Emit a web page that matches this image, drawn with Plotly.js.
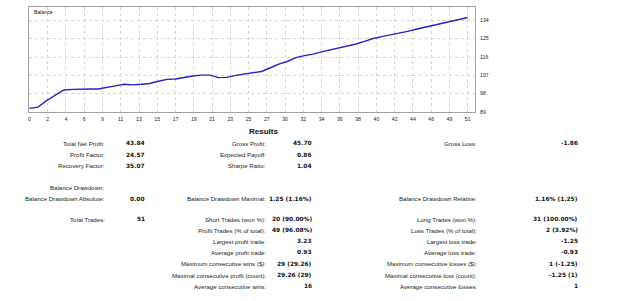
<!DOCTYPE html>
<html>
<head>
<meta charset="utf-8">
<script src="https://cdn.plot.ly/plotly-3.0.1.min.js"></script>
<style>html,body{margin:0;padding:0;background:#fff;}#chart{width:625px;height:301px;}</style>
</head>
<body>
<div id="chart"></div>
<script>
// ---- data ----
const trades = [0,1,2,3,4,5,6,7,8,9,10,11,12,13,14,15,16,17,18,19,20,21,22,23,24,25,26,27,28,29,30,31,32,33,34,35,36,37,38,39,40,41,42,43,44,45,46,47,48,49,50,51];
const balance = [90.8,91.4,94.6,97.3,99.8,100.1,100.3,100.3,100.3,100.9,101.8,102.6,102.3,102.6,103.0,104.1,105.0,105.2,106.0,106.7,107.1,107.1,105.9,106.0,107.0,107.6,108.1,108.9,110.6,112.5,113.8,115.7,116.7,117.4,118.5,119.4,120.5,121.4,122.4,123.7,125.1,126.0,126.8,127.6,128.6,129.6,130.6,131.5,132.5,133.4,134.4,135.4];
const xTickLabels = ["0","2","4","6","9","11","13","15","17","19","21","23","25","27","30","32","34","36","38","40","42","44","46","49","51"];
const yTickValues = [89,98,107,116,125,134];

const title = "Results";
const col1Labels = ["Total Net Profit:","Profit Factor:","Recovery Factor:","","Balance Drawdown:","Balance Drawdown Absolute:","","Total Trades:","","","","","",""];
const col1Values = ["43.84","24.57","35.07","","","0.00","","51","","","","","",""];
const col2Labels = ["Gross Profit:","Expected Payoff:","Sharpe Ratio:","","","Balance Drawdown Maximal:","","Short Trades (won %):","Profit Trades (% of total):","Largest profit trade:","Average profit trade:","Maximum consecutive wins ($):","Maximal consecutive profit (count):","Average consecutive wins:"];
const col2Values = ["45.70","0.86","1.04","","","1.25 (1.16%)","","20 (90.00%)","49 (96.08%)","3.23","0.93","29 (29.26)","29.26 (29)","16"];
const col3Labels = ["Gross Loss:","","","","","Balance Drawdown Relative:","","Long Trades (won %):","Loss Trades (% of total):","Largest loss trade:","Average loss trade:","Maximum consecutive losses ($):","Maximal consecutive loss (count):","Average consecutive losses:"];
const col3Values = ["-1.86","","","","","1.16% (1.25)","","31 (100.00%)","2 (3.92%)","-1.25","-0.93","1 (-1.25)","-1.25 (1)","1"];

// ---- layout geometry ----
const W = 625, H = 301;
const M = {l:29, r:150, t:7, b:189};
const PW = W - M.l - M.r, PH = H - M.t - M.b;
const px = x => (x - M.l) / PW;
const py = y => (H - M.b - y) / PH;
const rowY = [143.3,154.5,165.7,176.5,187.3,198.7,209,219.3,230.2,241.3,252.3,263.7,275,286];
const cols = [
  {labels:col1Labels, values:col1Values, lx:107, vx:147},
  {labels:col2Labels, values:col2Values, lx:268, vx:313.5},
  {labels:col3Labels, values:col3Values, lx:479, vx:579.5}
];

const annotations = [];
annotations.push({text:"Balance", xref:"paper", yref:"paper", x:px(32), y:py(12), xanchor:"left", yanchor:"middle",
  showarrow:false, font:{family:"Liberation Sans", size:5.2, color:"#111"}});
annotations.push({text:"<b>"+title+"</b>", xref:"paper", yref:"paper", x:px(263.5), y:py(131), xanchor:"center", yanchor:"middle",
  showarrow:false, font:{family:"Liberation Sans", size:8, color:"#111"}});
cols.forEach(c => {
  c.labels.forEach((t,i) => {
    if (t) annotations.push({text:t, xref:"paper", yref:"paper", x:px(c.lx), y:py(rowY[i]), xanchor:"right", yanchor:"middle",
      showarrow:false, font:{family:"Liberation Sans", size:6.1, color:"#222"}});
  });
  c.values.forEach((t,i) => {
    if (t) annotations.push({text:"<b>"+t+"</b>", xref:"paper", yref:"paper", x:px(c.vx), y:py(rowY[i]), xanchor:"right", yanchor:"middle",
      showarrow:false, font:{family:"DejaVu Sans", size:5.9, color:"#111"}});
  });
});

const tickVals = xTickLabels.map((_,i) => i * 51 / 24);

const trace = {x:trades, y:balance, type:"scatter", mode:"lines",
  line:{color:"#2424c0", width:1.4}, hoverinfo:"skip"};

const layout = {
  width:W, height:H, margin:M, showlegend:false,
  paper_bgcolor:"#fff", plot_bgcolor:"#fff",
  xaxis:{range:[-0.05,51.85], tickvals:tickVals, ticktext:xTickLabels, showgrid:true, gridcolor:"#d4d4d4", griddash:"dot", gridwidth:1,
    zeroline:false, showline:true, mirror:true, linecolor:"#a0a0a0", linewidth:1,
    ticks:"outside", ticklen:2, tickcolor:"rgba(0,0,0,0)", tickfont:{family:"Liberation Sans", size:5.2, color:"#222"}},
  yaxis:{range:[89,140.55], tickvals:yTickValues, side:"right", showgrid:true, gridcolor:"#d4d4d4", griddash:"dot", gridwidth:1,
    zeroline:false, showline:true, mirror:true, linecolor:"#a0a0a0", linewidth:1,
    ticks:"outside", ticklen:3, tickcolor:"rgba(0,0,0,0)", tickfont:{family:"Liberation Sans", size:5.2, color:"#222"}},
  annotations:annotations
};

Plotly.newPlot("chart", [trace], layout, {staticPlot:true, displayModeBar:false});
</script>
</body>
</html>
